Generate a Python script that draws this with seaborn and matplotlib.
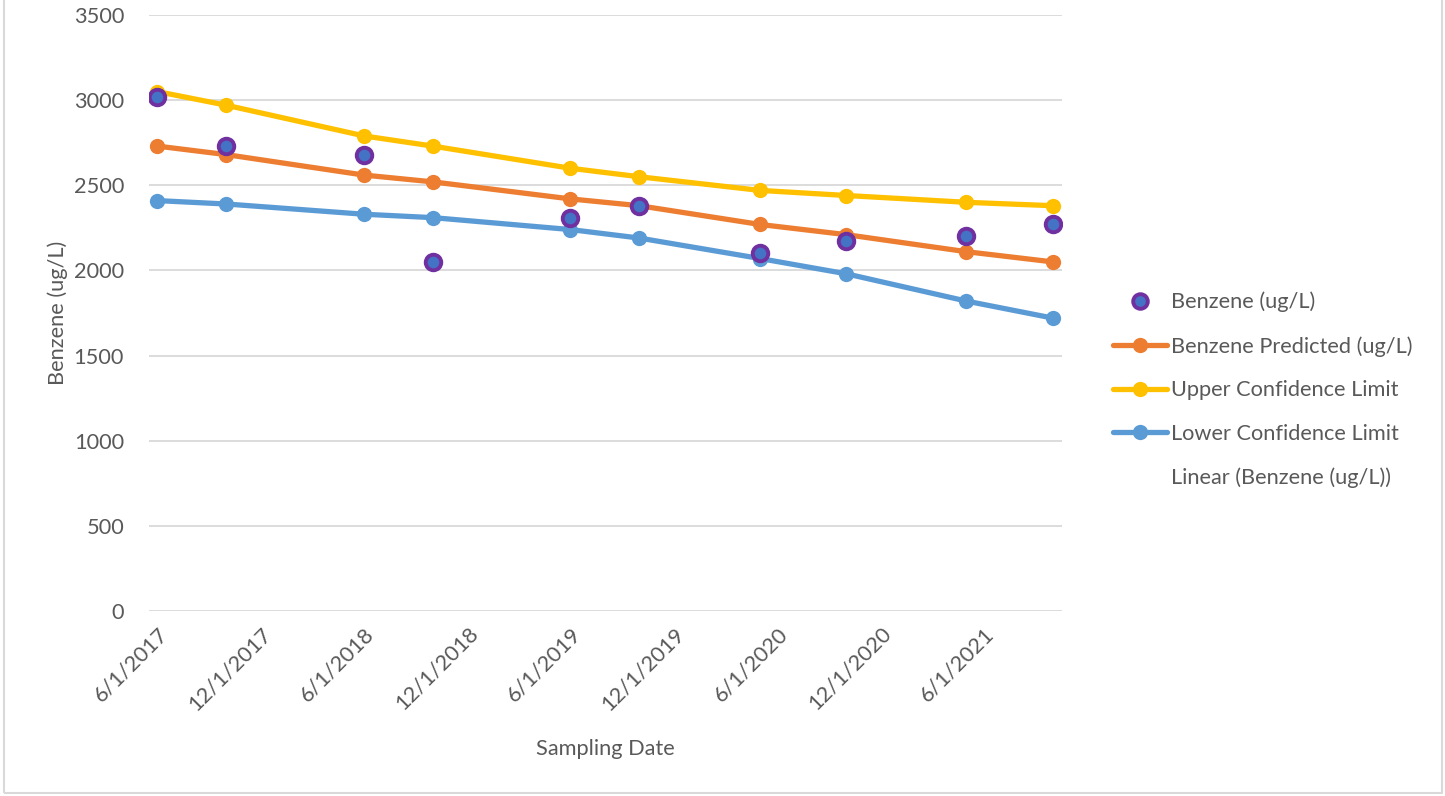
import pandas as pd
import matplotlib
matplotlib.use("Agg")
import matplotlib.pyplot as plt
import matplotlib.dates as mdates
from matplotlib.lines import Line2D
from matplotlib.patches import Rectangle
import seaborn as sns

# sampling dates and series values (ug/L)
dates = ["2017-06-01", "2017-10-01", "2018-06-01", "2018-10-01", "2019-06-01",
         "2019-10-01", "2020-05-01", "2020-10-01", "2021-05-01", "2021-10-01"]
benzene = [3020, 2730, 2680, 2050, 2310, 2380, 2100, 2170, 2200, 2270]
predicted = [2730, 2680, 2560, 2520, 2420, 2380, 2270, 2210, 2110, 2050]
upper = [3050, 2970, 2790, 2730, 2600, 2550, 2470, 2440, 2400, 2380]
lower = [2410, 2390, 2330, 2310, 2240, 2190, 2070, 1980, 1820, 1720]
tick_dates = ["2017-06-01", "2017-12-01", "2018-06-01", "2018-12-01", "2019-06-01",
              "2019-12-01", "2020-06-01", "2020-12-01", "2021-06-01"]

df = pd.DataFrame({
    "date": pd.to_datetime(dates),
    "Benzene (ug/L)": benzene,
    "Benzene Predicted (ug/L)": predicted,
    "Upper Confidence Limit": upper,
    "Lower Confidence Limit": lower,
})

sns.set_theme(style="white")
plt.rcParams["font.family"] = ["Lato", "DejaVu Sans"]
text_col = "#595959"
fs = 15.7

fig = plt.figure(figsize=(14.45, 7.96), dpi=100)
ax = fig.add_axes([149 / 1445, 1 - 611 / 796, (1062 - 149) / 1445, (611 - 15) / 796])

line_series = [("Benzene Predicted (ug/L)", "#ED7D31"),
               ("Upper Confidence Limit", "#FFC000"),
               ("Lower Confidence Limit", "#5B9BD5")]
for name, col in line_series:
    sns.lineplot(data=df, x="date", y=name, ax=ax, color=col, linewidth=3.8,
                 marker="o", markersize=11, markeredgewidth=0, zorder=3)

sns.scatterplot(data=df, x="date", y="Benzene (ug/L)", ax=ax, s=125,
                color="#4472C4", edgecolor="#7030A0", linewidth=2.8, zorder=4)

ax.set_xlim(pd.Timestamp("2017-05-17"), pd.Timestamp("2021-10-17"))
ax.set_ylim(0, 3500)
ax.set_yticks(range(0, 3501, 500))
ax.set_xticks(pd.to_datetime(tick_dates))
ax.xaxis.set_major_formatter(plt.FuncFormatter(
    lambda v, p: "{d.month}/{d.day}/{d.year}".format(d=mdates.num2date(v))))
for lbl in ax.get_xticklabels():
    lbl.set_rotation(45)
    lbl.set_ha("right")
    lbl.set_rotation_mode("anchor")

ax.grid(axis="y", color="#D9D9D9", linewidth=1.3)
ax.grid(axis="x", visible=False)
for s in ax.spines.values():
    s.set_visible(False)
ax.tick_params(axis="both", length=0, labelsize=fs, labelcolor=text_col)
ax.tick_params(axis="y", pad=18)
ax.tick_params(axis="x", pad=9)
ax.set_xlabel("Sampling Date", fontsize=fs, color=text_col, labelpad=18)
ax.set_ylabel("Benzene (ug/L)", fontsize=fs, color=text_col, labelpad=4)

handles = [
    Line2D([], [], linestyle="none", marker="o", markersize=10.5,
           markerfacecolor="#4472C4", markeredgecolor="#7030A0", markeredgewidth=2.8),
]
for name, col in line_series:
    handles.append(Line2D([], [], color=col, linewidth=3.8, marker="o",
                          markersize=11, markeredgewidth=0))
handles.append(Line2D([], [], linestyle="none"))
labels = ["Benzene (ug/L)"] + [n for n, _ in line_series] + ["Linear (Benzene (ug/L))"]
fig.legend(handles, labels, loc="center left", bbox_to_anchor=(1102 / 1445, 1 - 390 / 796),
           frameon=False, fontsize=fs, labelcolor=text_col, handlelength=2.5,
           handletextpad=0.15, labelspacing=1.09, borderpad=0)

fig.add_artist(Rectangle((4 / 1445, 3 / 796), 1438 / 1445, 1.2, transform=fig.transFigure,
                         fill=False, edgecolor="#D9D9D9", linewidth=1.5))

fig.savefig("out.png", dpi=100)
